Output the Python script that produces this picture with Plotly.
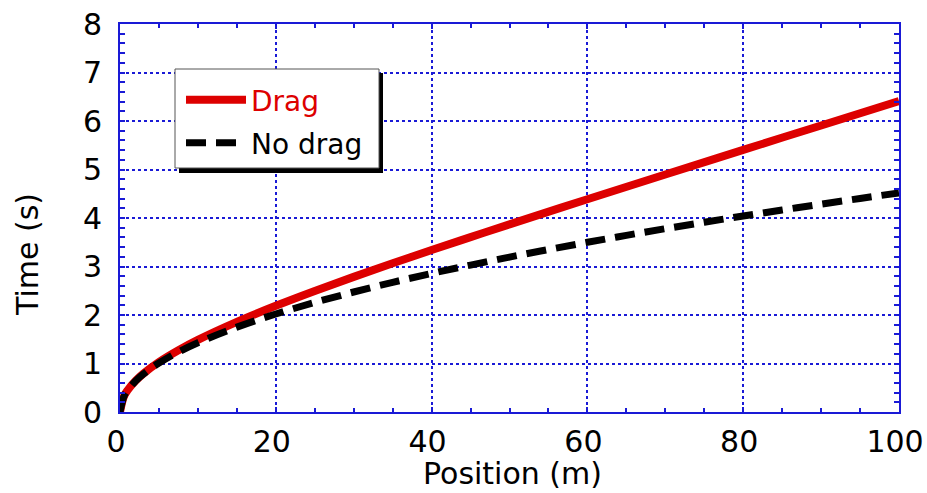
import plotly.graph_objects as go

# Position (m)
pos_drag = [0, 0.5, 1, 2, 3, 5, 7.5, 10, 15, 20, 25, 30, 35, 40, 45, 50, 60, 70, 80, 90, 100]
time_drag = [0, 0.32, 0.454, 0.644, 0.792, 1.031, 1.275, 1.488, 1.859, 2.189, 2.495, 2.786,
             3.066, 3.339, 3.606, 3.869, 4.387, 4.898, 5.404, 5.908, 6.41]

pos_nodrag = [0, 0.5, 1, 2, 3, 5, 7.5, 10, 15, 20, 25, 30, 35, 40, 45, 50, 55, 60, 65, 70,
              75, 80, 85, 90, 95, 100]
time_nodrag = [0, 0.319, 0.452, 0.639, 0.783, 1.010, 1.237, 1.429, 1.750, 2.020, 2.259, 2.474,
               2.673, 2.857, 3.030, 3.194, 3.350, 3.499, 3.642, 3.780, 3.912, 4.041, 4.165,
               4.286, 4.403, 4.518]

x_ticks = [0, 20, 40, 60, 80, 100]
y_ticks = [0, 1, 2, 3, 4, 5, 6, 7, 8]

BLUE = "#1a1ad6"
RED = "#dd0000"
FONT = "DejaVu Sans"

W, H = 927, 493
# plot area in page pixels
L, R, T, B = 120, 899, 24, 412


def px(x):
    return (x - L) / (R - L)


def py(y):
    return (B - y) / (B - T)


fig = go.Figure()
fig.add_trace(go.Scatter(x=pos_drag, y=time_drag, mode="lines", name="Drag",
                         line=dict(color=RED, width=8), line_shape="spline",
                         legend="legend"))
fig.add_trace(go.Scatter(x=pos_nodrag, y=time_nodrag, mode="lines", name="No drag",
                         line=dict(color="black", width=7, dash="20px,10px"), line_shape="spline",
                         legend="legend2"))

axis_common = dict(
    showline=True, linecolor=BLUE, linewidth=2, mirror="ticks",
    ticks="inside", ticklen=5, tickcolor=BLUE, tickwidth=1.5,
    showgrid=True, gridcolor=BLUE, gridwidth=1.5, griddash="3px,3px",
    zeroline=False, automargin=False, ticklabeloverflow="allow",
    tickfont=dict(family=FONT, size=30, color="black"),
)

fig.update_xaxes(range=[0, 100], tickvals=x_ticks, ticklabelstandoff=2, ticklabelshift=-4,
                 minor=dict(dtick=5, ticks="inside", ticklen=4, tickcolor=BLUE, showgrid=False),
                 **axis_common)
fig.update_yaxes(range=[0, 8], tickvals=y_ticks, ticklabelstandoff=10,
                 minor=dict(dtick=0.2, ticks="inside", ticklen=5, tickcolor=BLUE, showgrid=False),
                 **axis_common)

# axis titles
fig.add_annotation(text="Position (m)", xref="paper", yref="paper", x=px(512), y=py(474),
                   xanchor="center", yanchor="middle", showarrow=False,
                   font=dict(family=FONT, size=30, color="black"))
fig.add_annotation(text="Time (s)", xref="paper", yref="paper", x=px(27), y=py(255),
                   xanchor="center", yanchor="middle", showarrow=False, textangle=-90,
                   font=dict(family=FONT, size=30, color="black"))

# legend frame with drop shadow
fig.add_shape(type="rect", xref="paper", yref="paper",
              x0=px(179), x1=px(383), y0=py(173), y1=py(73),
              fillcolor="black", line=dict(width=0), layer="above")
fig.add_shape(type="rect", xref="paper", yref="paper",
              x0=px(175), x1=px(379), y0=py(168), y1=py(69),
              fillcolor="white", line=dict(color="#555", width=1), layer="above")

leg_common = dict(xanchor="left", yanchor="middle", bgcolor="rgba(0,0,0,0)", borderwidth=0,
                  itemwidth=60)
fig.update_layout(
    width=W, height=H,
    margin=dict(l=L, r=W - R, t=T, b=H - B),
    plot_bgcolor="white", paper_bgcolor="white",
    showlegend=True,
    legend=dict(x=px(181), y=py(100), font=dict(family=FONT, size=28, color=RED), **leg_common),
    legend2=dict(x=px(181), y=py(143), font=dict(family=FONT, size=28, color="black"),
                 **leg_common),
)

fig.write_html("out.html", config={"displayModeBar": False},
               post_script="document.body.style.margin='0';document.body.style.overflow='hidden';")
